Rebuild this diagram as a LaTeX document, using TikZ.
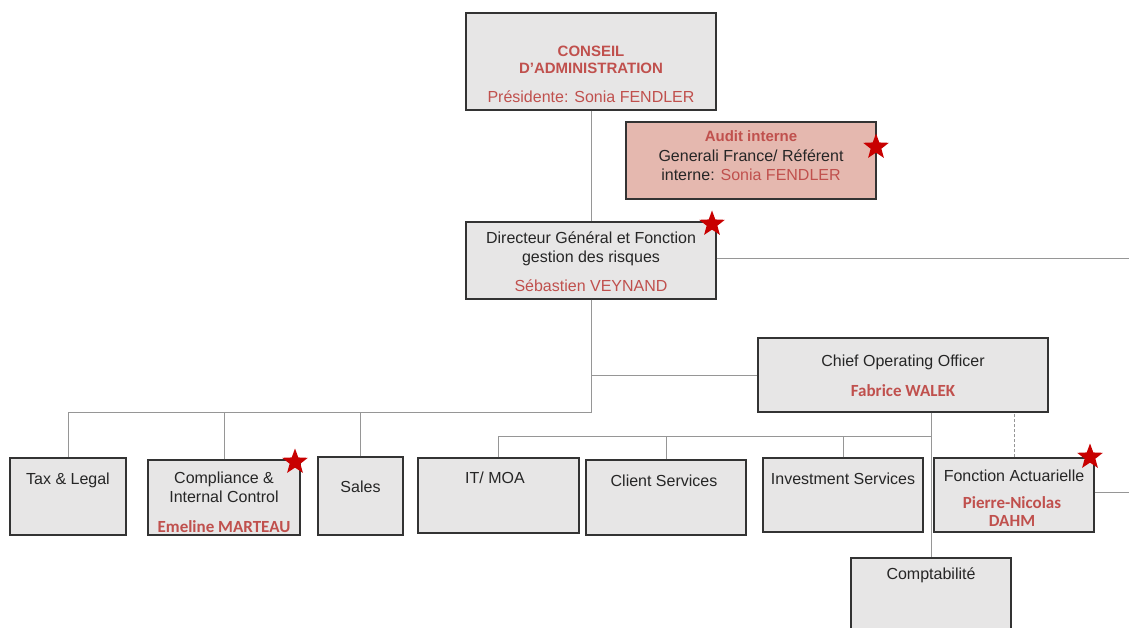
\documentclass[tikz,border=0pt]{standalone}
\usepackage{fontspec}
\setmainfont{Liberation Sans}
\newfontfamily\calib{Carlito}
\usetikzlibrary{shapes.geometric}

\definecolor{gris}{RGB}{231,230,230}
\definecolor{rose}{RGB}{229,184,175}
\definecolor{rouge}{RGB}{192,80,77}
\definecolor{rougeetoile}{RGB}{200,0,0}
\definecolor{trait}{RGB}{150,150,150}

\tikzset{
  boite/.style={draw=black!80, fill=gris, line width=1.2pt, inner sep=0pt},
  lien/.style={draw=trait, line width=1pt},
  txt/.style={font=\fontsize{16}{19}\selectfont, text=black!85, align=center, inner sep=0pt},
  titre/.style={txt, text=rouge, font=\fontsize{15}{17}\selectfont\bfseries},
  nom/.style={txt, text=rouge},
  nomc/.style={txt, text=rouge, font=\fontsize{17}{18}\selectfont\calib\bfseries},
  etoile/.style={star, star points=5, star point ratio=2.4, fill=rougeetoile, inner sep=0pt, minimum size=27pt}
}

\begin{document}
\begin{tikzpicture}[x=1pt,y=-1pt]

\useasboundingbox (0,0) rectangle (1129,628);
\clip (0,0) rectangle (1129,628);

% Conseil d'administration
\node[boite, minimum width=250pt, minimum height=97pt] (conseil) at (591,61.5) {};
\node[titre] (conseilT) at (591,60) {CONSEIL\\D'ADMINISTRATION};
\node[nom] (conseilN) at (591,97) {Présidente: Sonia FENDLER};

% Audit interne
\node[boite, fill=rose, minimum width=250pt, minimum height=77pt] (audit) at (751,160.5) {};
\node[titre] (auditT) at (751,136) {Audit interne};
\node[txt] (auditN) at (751,165.5)
{Generali France/ Référent\\interne: \textcolor{rouge}{Sonia FENDLER}};
\node[etoile] (etAudit) at (876,147) {};

% Directeur general
\node[boite, minimum width=250pt, minimum height=77pt] (dg) at (591,260.5) {};
\node[txt] (dgT) at (591,249) {Directeur Général et Fonction\\gestion des risques};
\node[nom] (dgN) at (591,286) {Sébastien VEYNAND};
\node[etoile] (etDg) at (712,224) {};

% Chief Operating Officer
\node[boite, minimum width=290pt, minimum height=74pt] (coo) at (903,375) {};
\node[txt] (cooT) at (903,362) {Chief Operating Officer};
\node[nomc] (cooN) at (903,391) {Fabrice WALEK};

% Rattachements directs
\node[boite, minimum width=116pt, minimum height=77pt] (tax) at (68,496.5) {};
\node[txt] (taxT) at (68,480) {Tax \& Legal};

\node[boite, minimum width=152pt, minimum height=75pt] (compliance) at (224,497.5) {};
\node[txt] (complianceT) at (224,487) {Compliance \&\\Internal Control};
\node[nomc] (complianceN) at (224,527) {Emeline MARTEAU};
\node[etoile] (etCompliance) at (295,462) {};

\node[boite, minimum width=85pt, minimum height=78pt] (sales) at (360.5,496) {};
\node[txt] (salesT) at (360.5,487) {Sales};

% Equipes du COO
\node[boite, minimum width=161pt, minimum height=75pt] (it) at (498.5,495.5) {};
\node[txt] (itT) at (495,478) {IT/ MOA};

\node[boite, minimum width=160pt, minimum height=75pt] (client) at (666,497.5) {};
\node[txt] (clientT) at (664,481) {Client Services};

\node[boite, minimum width=160pt, minimum height=74pt] (invest) at (843,495) {};
\node[txt] (investT) at (843,479) {Investment Services};

\node[boite, minimum width=160pt, minimum height=74pt] (actu) at (1014,495) {};
\node[txt] (actuT) at (1014,476) {Fonction Actuarielle};
\node[nomc] (actuN) at (1012,512)
{Pierre-Nicolas\\DAHM};
\node[etoile] (etActu) at (1090,457) {};

\node[boite, minimum width=160pt, minimum height=90pt] (compta) at (931,603) {};
\node[txt] (comptaT) at (931,575) {Comptabilité};

% Liens
\coordinate (bas) at (0,412);
\coordinate (bas2) at (0,436);
\coordinate (bordD) at (1140,259);
\coordinate (bordA) at (1140,492);

\draw[lien] (conseil.south) -- (dg.north);
\draw[lien] (dg.east |- bordD) -- (bordD);
\draw[lien] (dg.south) -- (dg.south |- bas) -| (tax.north);
\draw[lien] (compliance.north) -- (compliance.north |- bas);
\draw[lien] (sales.north) -- (sales.north |- bas);
\draw[lien] (dg.south |- coo.west) -- (coo.west);

\draw[lien] (coo.south -| compta.north) -- (compta.north);
\draw[lien] (it.north) -- (it.north |- bas2) -- (compta.north |- bas2);
\draw[lien] (client.north) -- (client.north |- bas2);
\draw[lien] (invest.north) -- (invest.north |- bas2);
\draw[lien, line width=0.6pt, densely dashed] (actu.north) -- (actu.north |- coo.south);
\draw[lien] (actu.east |- bordA) -- (bordA);

\end{tikzpicture}
\end{document}
